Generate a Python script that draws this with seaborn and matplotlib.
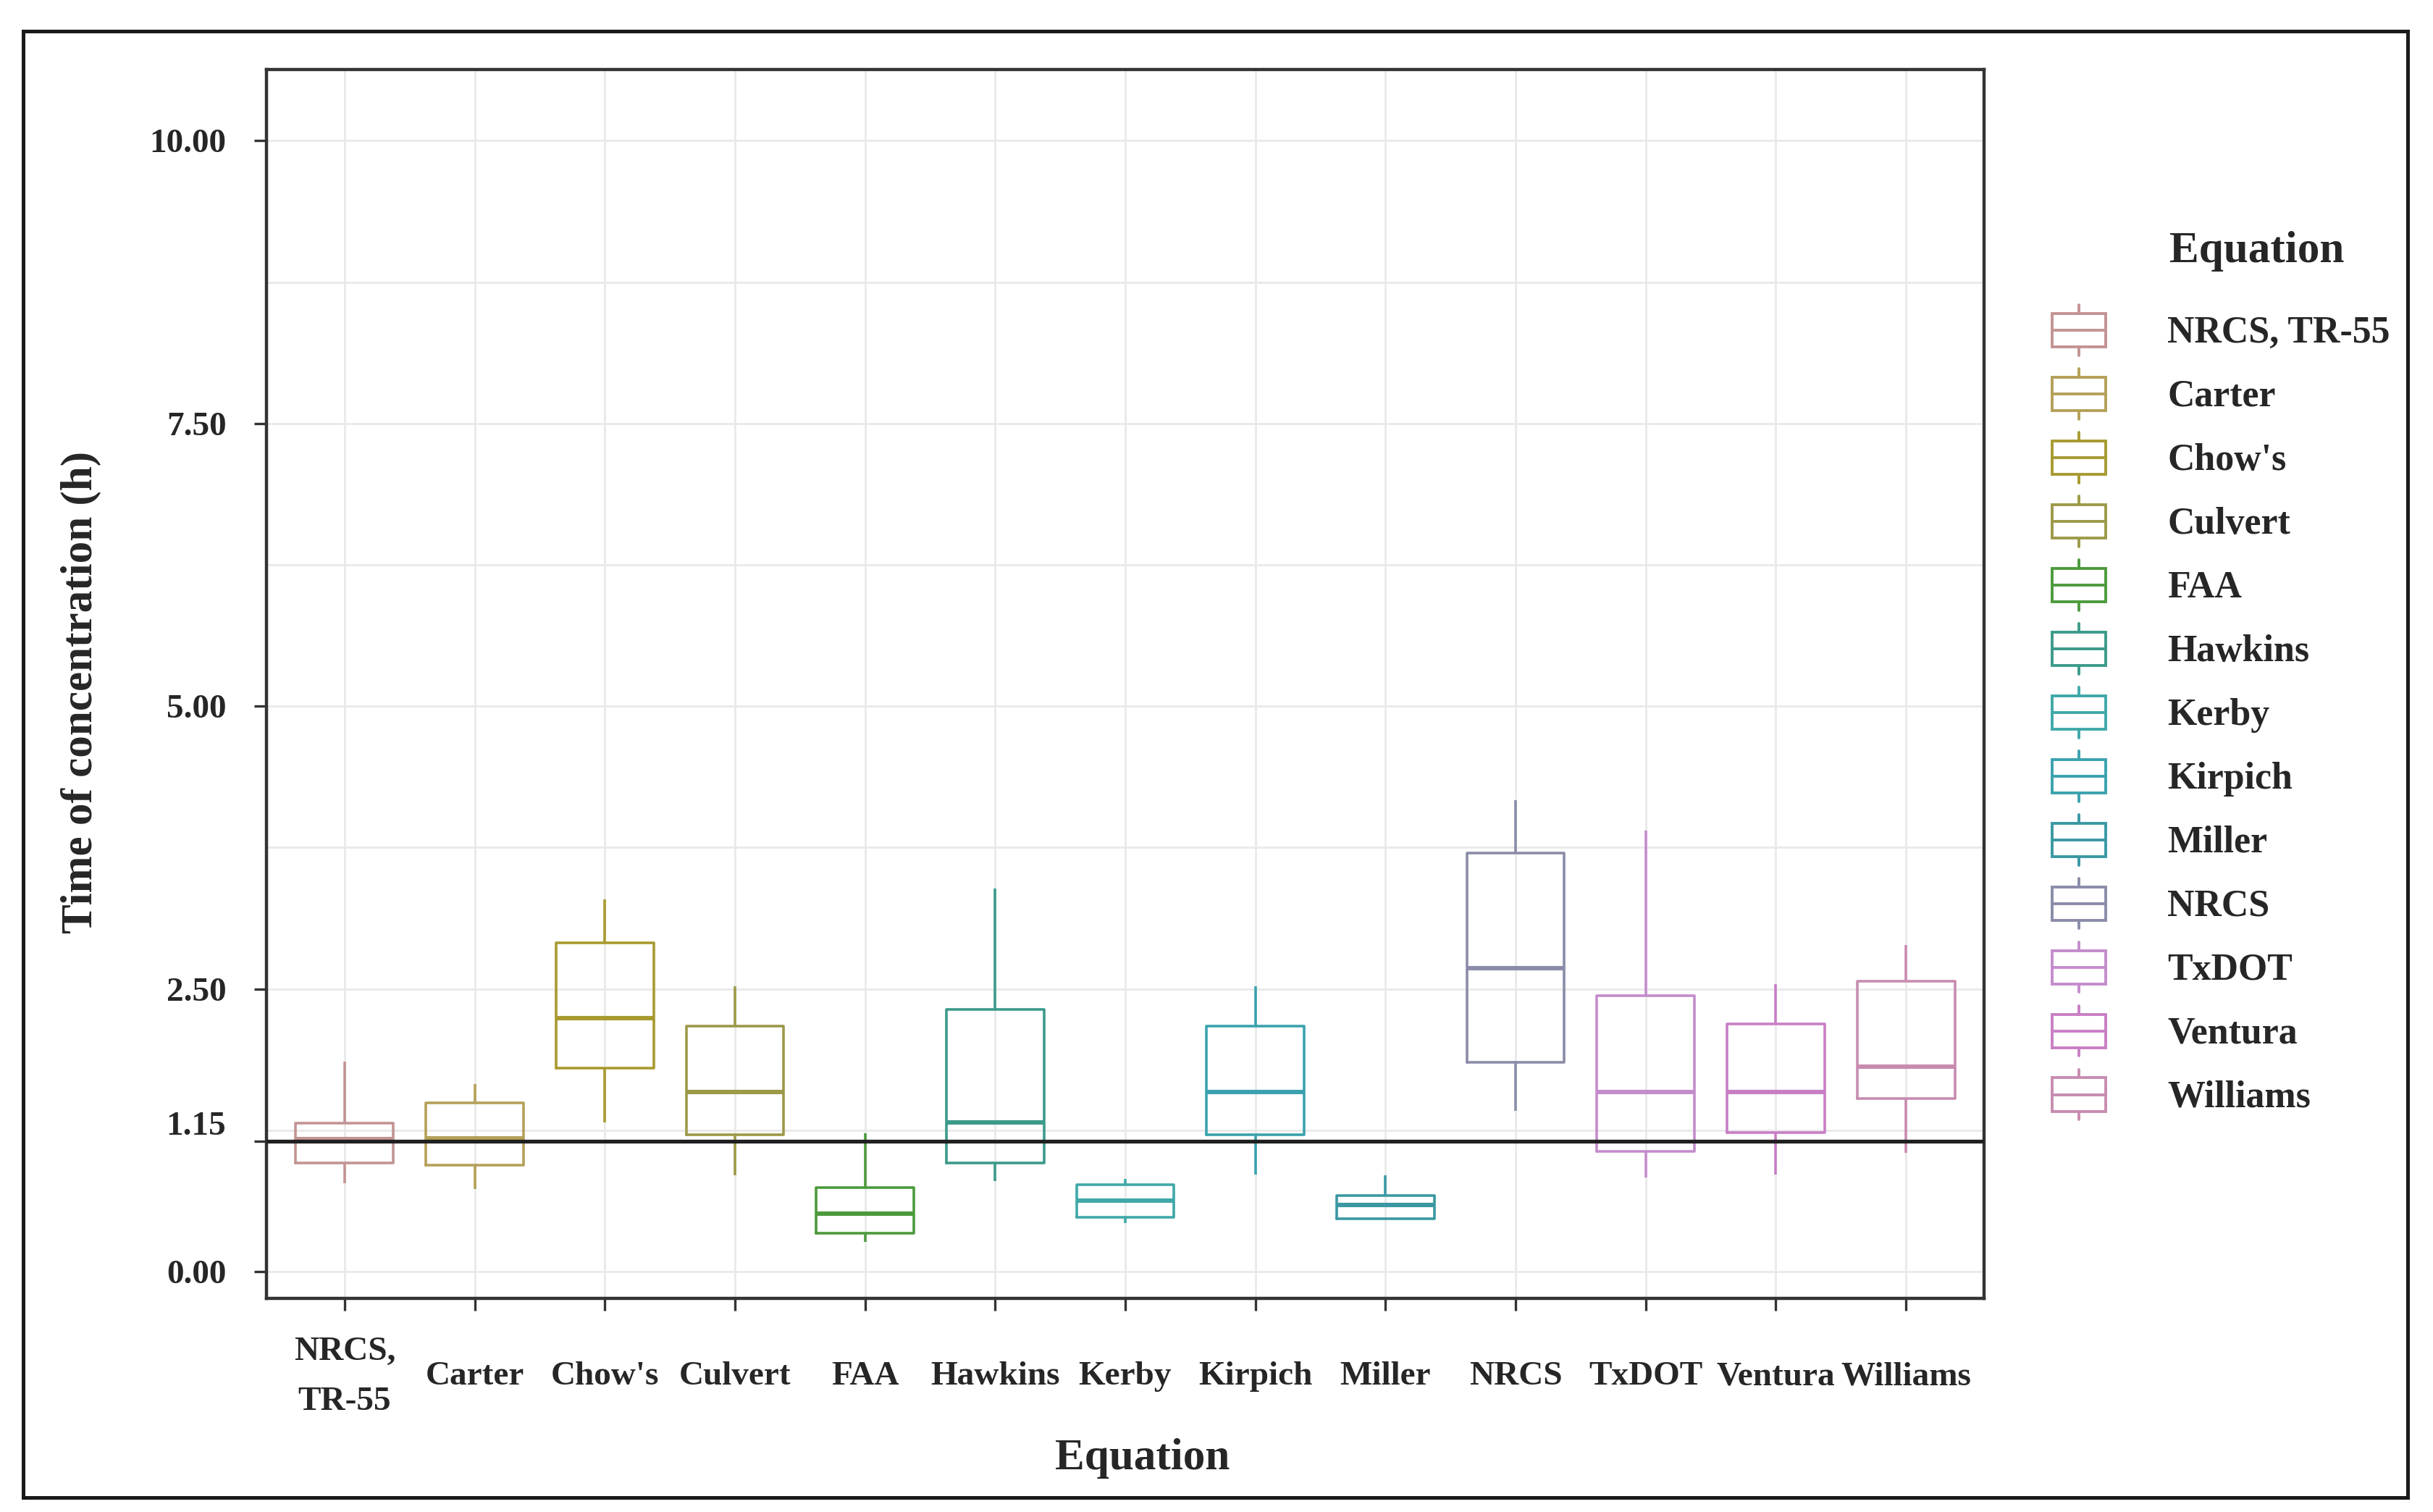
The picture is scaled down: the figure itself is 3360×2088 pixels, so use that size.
import matplotlib
matplotlib.use('Agg')
import matplotlib.pyplot as plt
import seaborn as sns
import pandas as pd
from matplotlib.patches import Patch, Rectangle
from matplotlib.lines import Line2D
from matplotlib.legend_handler import HandlerBase
from matplotlib.transforms import ScaledTranslation

sns.set_theme(style="whitegrid")
plt.rcParams['font.family'] = ['Liberation Serif', 'DejaVu Serif']
plt.rcParams['font.weight'] = 'bold'

# dados (horas)
equacoes = ["NRCS, TR-55", "Carter", "Chow's", "Culvert", "FAA", "Hawkins", "Kerby",
            "Kirpich", "Miller", "NRCS", "TxDOT", "Ventura", "Williams"]
rotulos_eixo = ["NRCS,\nTR-55", "Carter", "Chow's", "Culvert", "FAA", "Hawkins", "Kerby",
                "Kirpich", "Miller", "NRCS", "TxDOT", "Ventura", "Williams"]
bigode_inf = [0.78, 0.73, 1.32, 0.85, 0.26, 0.80, 0.43, 0.86, 0.46, 1.42, 0.83, 0.86, 1.05]
q1 = [0.96, 0.94, 1.80, 1.21, 0.34, 0.96, 0.48, 1.21, 0.47, 1.85, 1.06, 1.23, 1.53]
mediana = [1.17, 1.18, 2.24, 1.59, 0.51, 1.32, 0.63, 1.59, 0.59, 2.68, 1.59, 1.59, 1.81]
q3 = [1.31, 1.49, 2.91, 2.17, 0.74, 2.32, 0.77, 2.17, 0.67, 3.70, 2.44, 2.19, 2.57]
bigode_sup = [1.86, 1.66, 3.29, 2.52, 1.22, 3.39, 0.82, 2.52, 0.85, 4.17, 3.90, 2.54, 2.89]
limite = 1.15

CORES = ["#C39393", "#B4A058", "#A89A30", "#9C9A48", "#4C9A3C", "#3C9A8A", "#40A8A8",
         "#3AA2AE", "#3A98A2", "#8A8CA8", "#C48CCC", "#C87EC4", "#C88CB0"]

linhas = []
for i, eq in enumerate(equacoes):
    for v in (bigode_inf[i], q1[i], mediana[i], q3[i], bigode_sup[i]):
        linhas.append({"Equation": eq, "Tc": v})
df = pd.DataFrame(linhas)


class HandlerCaixa(HandlerBase):
    """Desenha um mini boxplot na legenda (estilo ggplot)."""
    def create_artists(self, legend, orig_handle, xdescent, ydescent,
                       width, height, fontsize, trans):
        cor = orig_handle.get_edgecolor()
        x0, y0 = -xdescent, -ydescent
        caixa = Rectangle((x0, y0 + 0.17 * height), width, 0.66 * height,
                          fill=False, edgecolor=cor, lw=1.4, transform=trans)
        meio = Line2D([x0, x0 + width], [y0 + 0.5 * height] * 2, color=cor, lw=1.4, transform=trans)
        sup = Line2D([x0 + width / 2] * 2, [y0 + 0.83 * height, y0 + height], color=cor, lw=1.4, transform=trans)
        inf = Line2D([x0 + width / 2] * 2, [y0, y0 + 0.17 * height], color=cor, lw=1.4, transform=trans)
        return [caixa, meio, sup, inf]


fig = plt.figure(figsize=(16.8, 10.44), dpi=200)
ax = fig.add_axes([368 / 3360, 1 - 1793 / 2088, (2740 - 368) / 3360, (1793 - 96) / 2088])

sns.boxplot(data=df, x="Equation", y="Tc", hue="Equation", order=equacoes, hue_order=equacoes,
            palette=CORES, fill=False, width=0.75, whis=(0, 100), linewidth=1.3,
            medianprops={'linewidth': 2.2}, showcaps=False, legend=False, ax=ax)

ax.axhline(limite, color='#1f1f1f', lw=1.9, zorder=5)

ax.set_xlim(-0.6, 12.6)
ax.set_ylim(-0.237, 10.63)
ax.set_yticks([0, 1.15, 2.5, 5, 7.5, 10])
ax.set_yticklabels(["0.00", "1.15", "2.50", "5.00", "7.50", "10.00"])
ax.set_yticks([1.25, 3.75, 6.25, 8.75], minor=True)

ax.tick_params(axis='both', which='major', length=6, width=1.2, color='#333333',
               labelsize=17, direction='out', left=True, bottom=True)
ax.tick_params(axis='y', which='major', pad=14)
ax.tick_params(axis='x', which='major', pad=33)
ax.tick_params(which='minor', length=0)
ax.set_xticks(range(len(equacoes)))
ax.set_xticklabels(rotulos_eixo, va='center', fontweight='bold')
for lbl in ax.get_xticklabels():
    lbl.set_linespacing(1.85)
for lbl in ax.get_yticklabels():
    lbl.set_fontweight('bold')
# o rotulo 1.15 fica um pouco acima da linha, como no original
lbl115 = ax.get_yticklabels()[1]
lbl115.set_transform(lbl115.get_transform() + ScaledTranslation(0, 9 / 72, fig.dpi_scale_trans))

ax.grid(which='both', color='#e9e9e9', linewidth=1.0)
ax.set_axisbelow(True)
for sp in ax.spines.values():
    sp.set_color('#333333')
    sp.set_linewidth(1.6)

ax.set_xlabel("Equation", fontsize=22, fontweight='bold')
ax.set_ylabel("Time of concentration (h)", fontsize=22, fontweight='bold')
ax.xaxis.set_label_coords(0.51, -0.130)
ax.yaxis.set_label_coords(-0.108, 0.493)
ax.xaxis.label.set_va('center')
ax.yaxis.label.set_va('center')

# legenda manual com caixinhas
handles = [Patch(edgecolor=c, facecolor='none') for c in CORES]
fig.legend(handles, equacoes, handler_map={Patch: HandlerCaixa()},
           loc='upper left', bbox_to_anchor=(2834 / 3360, 1 - 421 / 2088),
           bbox_transform=fig.transFigure, frameon=False, fontsize=18.7,
           handlelength=1.42, handleheight=1.69, labelspacing=0.35,
           handletextpad=1.65, borderpad=0, borderaxespad=0)
fig.text(2996 / 3360, 1 - 347 / 2088, "Equation", fontsize=22, fontweight='bold',
         va='center', ha='left')

# moldura externa
fig.add_artist(Rectangle((32 / 3360, 1 - 2068 / 2088), (3325 - 32) / 3360, (2068 - 43) / 2088,
                         transform=fig.transFigure, fill=False, edgecolor='#1a1a1a', lw=1.8))

fig.savefig("out.png", dpi=200, facecolor='white')
plt.close(fig)
